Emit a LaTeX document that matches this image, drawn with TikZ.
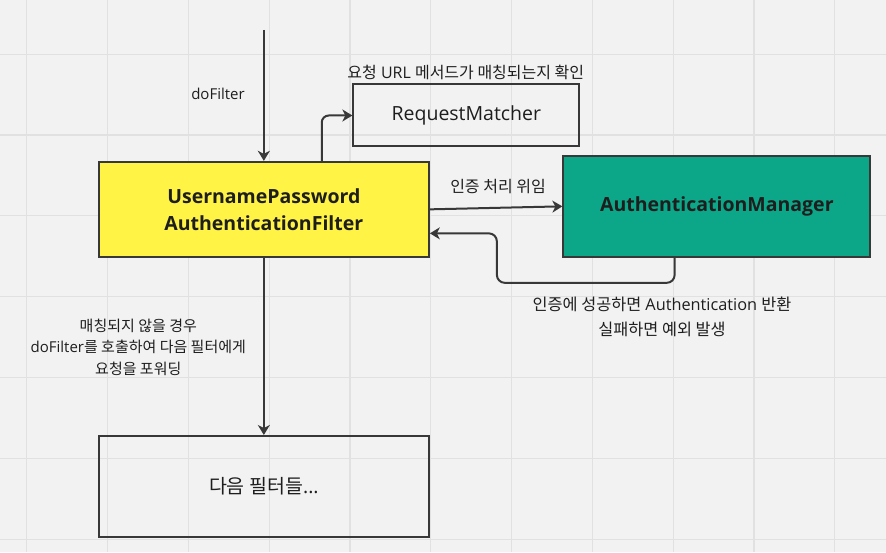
\documentclass[tikz,border=0pt]{standalone}
\usepackage{fontspec}
\setmainfont{Open Sans}
\newfontfamily\kr{Noto Sans CJK KR}
\usetikzlibrary{arrows.meta,calc}
\definecolor{bg}{HTML}{F2F2F2}
\definecolor{gridc}{HTML}{E1E1E1}
\definecolor{ink}{HTML}{383838}
\definecolor{txt}{HTML}{1E1E1E}
\definecolor{yelfill}{HTML}{FFF445}
\definecolor{amfill}{HTML}{0CA789}
\begin{document}
\begin{tikzpicture}[x=1pt,y=1pt,
  box/.style={draw=ink,line width=2pt,inner sep=0pt,align=center,text=txt},
  arr/.style={draw=ink,line width=2pt,-{Stealth[length=10pt,width=12pt,inset=3pt]}},
  lbl/.style={text=txt,align=center,inner sep=0pt,font=\fontsize{15}{21.5}\selectfont}]
\useasboundingbox (0,0) rectangle (886,552);
\fill[bg] (0,0) rectangle (886,552);
\foreach \x in {26.7,107.5,...,840} \draw[gridc,line width=1.2pt] (\x,0) -- (\x,552);
\foreach \y in {12.9,93.7,...,520} \draw[gridc,line width=1.2pt] (0,\y) -- (886,\y);

\node[box,fill=yelfill,minimum width=330pt,minimum height=95pt,
      font=\bfseries\fontsize{19.5}{27.3}\selectfont] (upaf) at (263.85,342.65)
      {UsernamePassword\\AuthenticationFilter};
\node[box,minimum width=226pt,minimum height=62pt,
      font=\fontsize{19.5}{24}\selectfont] (rm) at (466.35,436.5) {RequestMatcher};
\node[box,fill=amfill,minimum width=307pt,minimum height=101pt,
      font=\bfseries\fontsize{19.5}{24}\selectfont] (am) at (716.85,345.65) {AuthenticationManager};
\node[box,minimum width=330pt,minimum height=101pt,
      font=\fontsize{19.5}{24}\selectfont] (nf) at (263.85,65.5) {{\kr 다음 필터들}...};

\coordinate (start) at (263.85,522);
\draw[arr] (start) -- (upaf.north);
\draw[arr,rounded corners=7pt] ($(upaf.north west)+(223.9,0)$) |- (rm.west);
\draw[arr] (upaf.east) -- (am.west);
\draw[arr,rounded corners=8pt] ($(am.south west)+(112.3,0)$) -- ++(0,-25)
   -| ($(upaf.east)+(67,-24)$) -- ($(upaf.east)+(0,-24)$);
\draw[arr] (upaf.south) -- (nf.north);

\node[lbl] (l1) at (218,458) {doFilter};
\node[lbl,font=\fontsize{16}{21.5}\selectfont] (l2) at (465.8,480) {{\kr 요청} URL {\kr 메서드가 매칭되는지 확인}};
\node[lbl,font=\fontsize{16}{21.5}\selectfont] (l3) at (498,365.3) {{\kr 인증 처리 위임}};
\node[lbl,font=\fontsize{16.3}{24.3}\selectfont] (l4) at (662,235)
   {{\kr 인증에 성공하면} Authentication {\kr 반환}\\{\kr 실패하면 예외 발생}};
\node[lbl] (l5) at (138.3,204.7)
   {{\kr 매칭되지 않을 경우}\\doFilter{\kr 를 호출하여 다음 필터에게}\\{\kr 요청을 포워딩}};
\end{tikzpicture}
\end{document}
